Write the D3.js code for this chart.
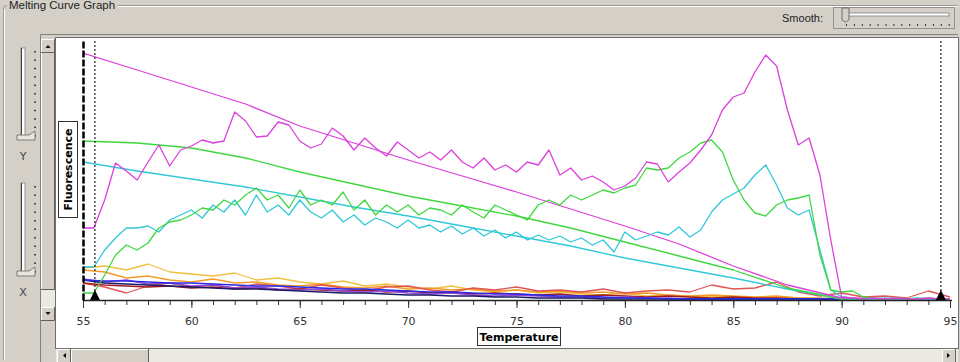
<!DOCTYPE html>
<html><head><meta charset="utf-8">
<script src="https://cdn.jsdelivr.net/npm/d3@7/dist/d3.min.js"></script>
<style>
html,body{margin:0;padding:0;background:#d4d0c8;overflow:hidden}
svg{display:block}
</style></head><body>
<svg id="c" width="960" height="362"></svg>
<script>
// ---------- DATA ----------
const chartTitle = "Melting Curve Graph";
const xLabel = "Temperature";
const yLabel = "Fluorescence";
const smoothLabel = "Smooth:";
const xTickValues = [55, 60, 65, 70, 75, 80, 85, 90, 95];
const xTickLabels = ["55", "60", "65", "70", "75", "80", "85", "90", "95"];
const xMinorTicks = d3.range(55, 96, 1);
const markerTemps = [55.55, 94.58];

// temperatures sampled every 0.5 °C (derivative / raw curves)
const tempsFine = d3.range(55, 95.001, 0.5);
// temperatures every 1 °C (low baseline samples)
const tempsMid = d3.range(55, 95.001, 1);
// temperatures every 2.5 °C (smooth fitted curves)
const tempsCoarse = d3.range(55, 95.001, 2.5);

const magentaRaw = [72,72,100,137,129,120,138,155,134,150,154,160,157,159,188,179,163,164,178,175,159,152,156,172,164,150,162,152,144,158,150,142,148,140,150,138,132,142,130,135,128,138,135,150,125,132,120,124,118,110,114,122,138,136,118,128,137,150,165,190,203,207,228,245,234,190,155,162,125,60,3,2,1,2,1,2,1,1,2,1,1];
const greenRaw = [7,7,25,45,55,50,57,72,78,80,85,92,90,100,95,105,112,100,105,92,110,95,100,95,108,90,100,85,95,88,95,85,92,90,85,95,88,82,95,90,85,80,95,100,95,105,100,105,110,107,112,115,132,130,132,142,148,157,160,148,120,100,87,84,95,100,102,105,45,10,8,9,3,2,1,2,1,1,2,1,1];
const cyanRaw = [33,33,50,62,72,72,74,68,80,85,90,82,95,88,100,85,105,88,95,85,100,88,82,90,78,85,75,82,78,72,80,72,75,68,74,66,72,64,70,62,68,60,65,60,64,58,62,55,60,48,68,60,64,68,65,73,63,70,88,100,106,112,125,135,115,92,85,90,50,10,3,2,1,1,2,1,1,2,1,1,1];

const magentaFit = [247,230,213,196,174,157,140,124,108,91,74,56,34,15,2,1,1];
const greenFit = [159,157,152,142,128,116,104,94,84,72,58,44,30,12,1,1,1];
const cyanFit = [138,129,121,113,103,93,84,74,64,54,42,32,22,11,1,1,1];

const orangeLow = [30,28,22,24,20,18,21,17,18,15,14,16,13,12,14,11,12,10,11,9,10,8,9,7,8,6,7,5,4,5,4,3,4,2,2,1,1,1,1,1,1];
const yellowLow = [32,34,30,36,28,26,24,27,20,22,18,16,19,14,16,13,11,14,10,8,10,7,8,6,5,7,4,5,3,4,3,2,3,2,1,1,1,1,1,1,1];
const redLow = [17,13,7,14,17,13,15,12,16,14,11,15,12,9,13,14,10,8,12,10,13,9,10,8,11,7,9,10,8,15,11,12,18,8,4,7,3,4,2,9,3];
const darkRedLow = [17,15,14,13,14,12,13,11,12,10,11,10,9,10,8,9,7,8,6,7,6,5,6,4,5,4,3,4,3,2,3,2,2,1,1,0,0,0,0,0,0];
const blueLow = [20,19,19,18,17,17,16,15,14,14,13,12,11,11,10,9,8,8,7,6,6,5,4,4,3,2,2,1,1,1,1,1,1,1,1,1,1,1,1,1,1];
const purpleLow = [21,18,20,16,17,14,15,12,13,11,10,11,9,8,9,7,6,7,5,4,5,4,3,3,2,3,2,2,1,1,1,1,1,1,1,1,1,1,1,1,1];
const navyLow = [20,17,16,15,14,13,12,11,11,10,9,8,7,7,6,5,5,4,4,3,3,2,2,2,1,1,1,1,1,1,1,1,1,1,1,1,1,1,1,1,1];

// ---------- DRAW ----------
const svg = d3.select("#c");
const bg = "#d4d0c8";
const x = d3.scaleLinear().domain([55, 95]).range([83, 950]);
const y = d3.scaleLinear().domain([0, 260]).range([300, 40]);

// group box
svg.append("path").attr("d", "M118,5.5 H958 M3.5,360 V9 Q3.5,5.5 7,5.5").attr("fill","none").attr("stroke","#9a978f");
svg.append("path").attr("d", "M118,6.5 H958 M4.5,360 V9").attr("fill","none").attr("stroke","#fff");
svg.append("text").attr("x", 9).attr("y", 9).text(chartTitle)
  .attr("font-family","Liberation Sans, Arial, sans-serif").attr("font-size", 11.5).attr("fill","#222");

// smooth control
svg.append("text").attr("x", 823).attr("y", 22).attr("text-anchor","end").text(smoothLabel)
  .attr("font-family","Liberation Sans, Arial, sans-serif").attr("font-size", 11).attr("fill","#222");
svg.append("rect").attr("x",833.5).attr("y",7.5).attr("width",121).attr("height",21)
  .attr("fill","none").attr("stroke","#555").attr("stroke-dasharray","1,1");
svg.append("rect").attr("x",844).attr("y",13).attr("width",105).attr("height",3).attr("fill","#fff").attr("stroke","#808080").attr("stroke-width",0.8);
svg.append("path").attr("d","M842,8 H849 V20 L845.5,22 L842,20 Z").attr("fill",bg).attr("stroke","#555").attr("stroke-width",0.8);
svg.selectAll(".sdot").data(d3.range(0, 14)).enter().append("rect")
  .attr("x", d => 846 + d * 7.9).attr("y", 24).attr("width", 1).attr("height", 2).attr("fill","#333");

// left sliders
function vslider(y0, y1, thumbY, label, labelY) {
  svg.append("rect").attr("x",21).attr("y",y0).attr("width",4).attr("height",y1-y0).attr("fill","#fff").attr("stroke","#808080").attr("stroke-width",0.8);
  svg.append("line").attr("x1",21.5).attr("x2",21.5).attr("y1",y0).attr("y2",y1).attr("stroke","#404040");
  svg.selectAll(null).data(d3.range(0, 11)).enter().append("rect")
    .attr("x", 34).attr("y", d => y0 + 3 + d * (y1 - y0 - 4) / 10).attr("width", 2).attr("height", 1.5).attr("fill","#444");
  svg.append("path").attr("d",`M17,${thumbY} H29 L35,${thumbY-4} V${thumbY+5} H17 Z`).attr("fill","#e8e6e0").attr("stroke","#666").attr("stroke-width",0.8);
  svg.append("text").attr("x",23).attr("y",labelY).attr("text-anchor","middle").text(label)
    .attr("font-family","DejaVu Sans, sans-serif").attr("font-size",11).attr("fill","#444");
}
vslider(48, 136, 135, "Y", 160);
vslider(183, 272, 271, "X", 296);

// panel frame
svg.append("path").attr("d","M40.5,362 V34.5 H958").attr("fill","none").attr("stroke","#808080");
svg.append("rect").attr("x",55.5).attr("y",37.5).attr("width",903).attr("height",311).attr("fill","#fff").attr("stroke","#707070");

// vertical scrollbar
function button(x0, y0, w, h) {
  svg.append("rect").attr("x",x0).attr("y",y0).attr("width",w).attr("height",h).attr("fill",bg);
  svg.append("path").attr("d",`M${x0+0.5},${y0+h} V${y0+0.5} H${x0+w}`).attr("fill","none").attr("stroke","#fff");
  svg.append("path").attr("d",`M${x0},${y0+h-0.5} H${x0+w-0.5} V${y0}`).attr("fill","none").attr("stroke","#606060");
}
button(41, 39, 14, 251);
svg.append("rect").attr("x",41).attr("y",290).attr("width",14).attr("height",17).attr("fill","#ece9e2");
button(41, 39, 14, 14);
svg.append("path").attr("d","M45.5,48 L48,45 L50.5,48 Z").attr("fill","#000");
button(41, 307, 14, 14);
svg.append("path").attr("d","M45.5,312 L48,315 L50.5,312 Z").attr("fill","#000");

// horizontal scrollbar
svg.append("rect").attr("x",56).attr("y",349).attr("width",902).attr("height",13).attr("fill","#ece9e2");
button(57, 349, 14, 14);
svg.append("path").attr("d","M66,353 L63,355.5 L66,358 Z").attr("fill","#000");
button(71, 349, 78, 14);
button(942, 349, 14, 14);
svg.append("path").attr("d","M947,353 L950,355.5 L947,358 Z").attr("fill","#000");

// clip
svg.append("clipPath").attr("id","pc").append("rect").attr("x",83).attr("y",38).attr("width",870).attr("height",263);
const g = svg.append("g").attr("clip-path","url(#pc)");

const mk = (temps) => d3.line().x((d, i) => x(temps[i])).y(d => y(d));
const series = [
  [tempsMid, yellowLow, "#f0c040"],
  [tempsMid, orangeLow, "#f49a2a"],
  [tempsMid, redLow, "#e05555"],
  [tempsMid, darkRedLow, "#a01c1c"],
  [tempsMid, purpleLow, "#9048d0"],
  [tempsMid, navyLow, "#1a1a6a"],
  [tempsMid, blueLow, "#2a2ae8"],
  [tempsCoarse, cyanFit, "#30c8d8"],
  [tempsCoarse, greenFit, "#40d840"],
  [tempsCoarse, magentaFit, "#dc40dc"],
  [tempsFine, cyanRaw, "#30c8d8"],
  [tempsFine, greenRaw, "#40d840"],
  [tempsFine, magentaRaw, "#dc40dc"]
];
series.forEach(([t, v, c]) => {
  g.append("path").attr("d", mk(t)(v)).attr("fill","none").attr("stroke", c).attr("stroke-width", 1.3).attr("stroke-linejoin","round");
});

// markers
markerTemps.forEach(t => {
  svg.append("line").attr("x1", x(t)).attr("x2", x(t)).attr("y1", 41).attr("y2", 300)
    .attr("stroke","#222").attr("stroke-width",1.2).attr("stroke-dasharray","2,2");
  svg.append("path").attr("d", `M${x(t)-5.5},301 L${x(t)},290 L${x(t)+5.5},301 Z`).attr("fill","#000");
});

// x axis
const minorAxis = d3.axisBottom(x).tickValues(xMinorTicks).tickSize(5).tickFormat("");
const majorAxis = d3.axisBottom(x).tickValues(xTickValues).tickSize(8).tickPadding(9)
  .tickFormat((d, i) => xTickLabels[i]);
const gm = svg.append("g").attr("transform","translate(0,300)").call(minorAxis);
gm.select(".domain").remove();
gm.selectAll("line").attr("stroke","#333");
const gM = svg.append("g").attr("transform","translate(0,300)").call(majorAxis);
gM.select(".domain").attr("d","M83,0.5 H952").attr("stroke","#222").attr("stroke-width",1.5);
gM.selectAll("line").attr("stroke","#333");
gM.selectAll("text").attr("font-family","DejaVu Sans, sans-serif").attr("font-size",11).attr("fill","#333");

// y axis
const yAxis = d3.axisLeft(y).tickValues([]).tickSizeOuter(0);
const gy = svg.append("g").attr("transform","translate(83,0)").call(yAxis);
gy.select(".domain").attr("stroke","#000").attr("stroke-width",2.5).attr("stroke-dasharray","7,2");

// axis titles
const tg = svg.append("g");
tg.append("rect").attr("x",477.5).attr("y",327.5).attr("width",83).attr("height",18).attr("fill","#fff").attr("stroke","#333");
tg.append("text").attr("x",519).attr("y",341).attr("text-anchor","middle").text(xLabel)
  .attr("font-family","DejaVu Sans, sans-serif").attr("font-weight","bold").attr("font-size",11).attr("fill","#000");
tg.append("rect").attr("x",58.5).attr("y",121.5).attr("width",19).attr("height",96).attr("fill","#fff").attr("stroke","#333");
tg.append("text").attr("transform","translate(72,169.5) rotate(-90)").attr("text-anchor","middle").text(yLabel)
  .attr("font-family","DejaVu Sans, sans-serif").attr("font-weight","bold").attr("font-size",11).attr("fill","#000");
</script>
</body></html>
